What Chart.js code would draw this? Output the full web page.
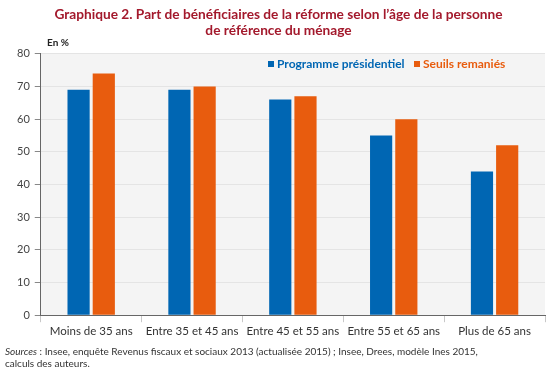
<!DOCTYPE html>
<html>
<head>
<meta charset="utf-8">
<script src="https://cdn.jsdelivr.net/npm/chart.js@4.4.1/dist/chart.umd.min.js"></script>
<style>
  html, body { margin: 0; padding: 0; background: #fff; }
  #wrap { width: 550px; height: 372px; }
</style>
</head>
<body>
<div id="wrap"><canvas id="MyChart" width="550" height="372"></canvas></div>
<script>
const categories = ['Moins de 35 ans', 'Entre 35 et 45 ans', 'Entre 45 et 55 ans', 'Entre 55 et 65 ans', 'Plus de 65 ans'];
const programme = [69, 69, 66, 55, 44];
const seuils = [74, 70, 67, 60, 52];
const yTicks = [0, 10, 20, 30, 40, 50, 60, 70, 80];

const FONT = 'Lato';
const BLUE = '#0066b3';
const ORANGE = '#e85c0e';

// fond gris + légende + textes annexes
const extras = {
    id: 'extras',
    beforeDraw(chart) {
        const { ctx, chartArea: a } = chart;
        ctx.save();
        ctx.fillStyle = '#f4f4f4';
        ctx.fillRect(a.left, a.top, a.right - a.left, a.bottom - a.top);
        ctx.restore();
    },
    afterDraw(chart) {
        const { ctx } = chart;
        ctx.save();
        ctx.textBaseline = 'middle';
        // unité
        ctx.fillStyle = '#222';
        ctx.font = `bold 10px ${FONT}`;
        ctx.fillText('En %', 47, 43);
        // légende
        const items = [
            { label: 'Programme présidentiel', color: BLUE, x: 268 },
            { label: 'Seuils remaniés', color: ORANGE, x: 414 }
        ];
        ctx.font = `bold 12px ${FONT}`;
        items.forEach(it => {
            ctx.fillStyle = it.color;
            ctx.fillRect(it.x, 61, 6, 6);
            ctx.fillText(it.label, it.x + 9, 64);
        });
        // sources
        ctx.fillStyle = '#333';
        ctx.font = `italic 10px ${FONT}`;
        ctx.fillText('Sources', 5, 352);
        const w = ctx.measureText('Sources').width;
        ctx.font = `10px ${FONT}`;
        ctx.fillText(' : Insee, enquête Revenus fiscaux et sociaux 2013 (actualisée 2015) ; Insee, Drees, modèle Ines 2015,', 5 + w, 352);
        ctx.fillText('calculs des auteurs.', 5, 364);
        ctx.restore();
    }
};

const config = {
    type: 'bar',
    data: {
        labels: categories,
        datasets: [{
            label: 'Programme présidentiel',
            backgroundColor: BLUE,
            data: programme,
        },
        {
            label: 'Seuils remaniés',
            backgroundColor: ORANGE,
            data: seuils,
        }]
    },
    options: {
        responsive: false,
        animation: false,
        layout: { padding: { left: 12, right: 5, top: 0, bottom: 32 } },
        categoryPercentage: 0.5,
        barPercentage: 0.88,
        plugins: {
            legend: { display: false },
            tooltip: { enabled: false },
            title: {
                display: true,
                text: ['Graphique 2. Part de bénéficiaires de la réforme selon l\u2019âge de la personne', 'de référence du ménage'],
                color: '#a3192c',
                font: { family: FONT, size: 13.7, weight: 'bold', lineHeight: 1.2 },
                padding: { top: 6, bottom: 15 }
            }
        },
        scales: {
            x: {
                grid: { drawOnChartArea: false, drawTicks: true, tickLength: 7, color: '#c8c8c8' },
                border: { color: '#666' },
                ticks: { color: '#333', font: { family: FONT, size: 11.5 }, padding: 2 }
            },
            y: {
                min: 0,
                max: 80,
                afterBuildTicks(axis) { axis.ticks = yTicks.map(v => ({ value: v })); },
                grid: { color: '#e4e4e4', tickLength: 6, tickColor: '#888' },
                border: { color: '#666' },
                ticks: { color: '#444', font: { family: FONT, size: 11 }, padding: 5 }
            }
        }
    },
    plugins: [extras]
};

const myChart = new Chart(document.getElementById('MyChart'), config);
</script>
</body>
</html>
